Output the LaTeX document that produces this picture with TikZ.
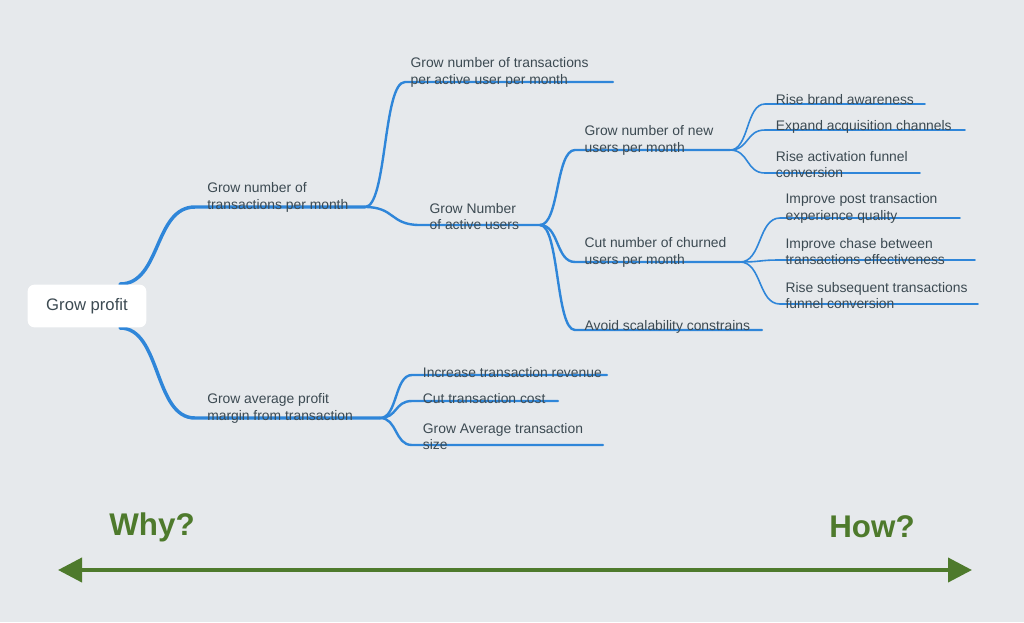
\documentclass[tikz,border=0pt]{standalone}
\usepackage{fontspec}
\setmainfont{Liberation Sans}
\usetikzlibrary{arrows.meta,calc}
\definecolor{bg}{HTML}{E6E9EC}
\definecolor{br}{HTML}{2F86D9}
\definecolor{tx}{HTML}{3C4A52}
\definecolor{gr}{HTML}{4E7A2C}
\tikzset{
 lbl/.style={anchor=south west,inner sep=1pt,align=left,font=\fontsize{10.4}{12.2}\selectfont,text=tx},
 b1/.style={draw=br,line width=2.6pt,line cap=round},
 b2/.style={draw=br,line width=1.8pt,line cap=round},
 b3/.style={draw=br,line width=1.2pt,line cap=round},
}
\begin{document}
\begin{tikzpicture}[x=0.75pt,y=-0.75pt]
\fill[bg] (0,0) rectangle (1024,622);
\useasboundingbox (0,0) rectangle (1024,622);
\coordinate (r1) at (120,284); \coordinate (r2) at (120,328);
\coordinate (a0) at (195,207); \coordinate (a) at (365,207);
\coordinate (b0) at (195,418); \coordinate (b) at (380,418);
\coordinate (c0) at (405,82); \coordinate (c) at (613,82);
\coordinate (d0) at (420,225); \coordinate (d) at (540,225);
\coordinate (e0) at (575,150); \coordinate (e) at (730,150);
\coordinate (f0) at (575,262); \coordinate (f) at (740,262);
\coordinate (g0) at (575,330); \coordinate (g) at (762,330);
\coordinate (h0) at (765,104); \coordinate (h) at (925,104);
\coordinate (i0) at (765,130); \coordinate (i) at (965,130);
\coordinate (j0) at (765,173); \coordinate (j) at (920,173);
\coordinate (k0) at (780,218); \coordinate (k) at (960,218);
\coordinate (l0) at (780,260); \coordinate (l) at (975,260);
\coordinate (m0) at (780,304); \coordinate (m) at (978,304);
\coordinate (n0) at (412,375); \coordinate (n) at (607,375);
\coordinate (o0) at (412,401); \coordinate (o) at (558,401);
\coordinate (p0) at (412,445); \coordinate (p) at (603,445);
\newcommand{\cv}[4]{\draw[#1] (#2) .. controls ($(#2)!0.55!(#2-|#3)$) and ($(#3)!0.55!(#3-|#2)$) .. (#3) -- (#4);}
\cv{b1}{r1}{a0}{a} \cv{b1}{r2}{b0}{b}
\cv{b2}{a}{c0}{c} \cv{b2}{a}{d0}{d}
\cv{b2}{d}{e0}{e} \cv{b2}{d}{f0}{f} \cv{b2}{d}{g0}{g}
\cv{b3}{e}{h0}{h} \cv{b3}{e}{i0}{i} \cv{b3}{e}{j0}{j}
\cv{b3}{f}{k0}{k} \cv{b3}{f}{l0}{l} \cv{b3}{f}{m0}{m}
\cv{b2}{b}{n0}{n} \cv{b2}{b}{o0}{o} \cv{b2}{b}{p0}{p}
\node[fill=white,rounded corners=5pt,minimum width=89pt,minimum height=32pt,text=tx,font=\fontsize{12.5}{14}\selectfont] (root) at (87,306) {Grow profit};
\node[lbl] (ta) at ([xshift=8,yshift=-5]a0) {Grow number of\\transactions per month};
\node[lbl] (tb) at ([xshift=8,yshift=-5]b0) {Grow average profit\\margin from transaction};
\node[lbl] (tc) at ([xshift=3,yshift=-5]c0) {Grow number of transactions\\per active user per month};
\node[lbl] (td) at ([xshift=6,yshift=-5]d0) {Grow Number\\of active users};
\node[lbl] (te) at ([xshift=6,yshift=-5]e0) {Grow number of new\\users per month};
\node[lbl] (tf) at ([xshift=6,yshift=-5]f0) {Cut number of churned\\users per month};
\node[lbl] (tg) at ([xshift=6,yshift=-4]g0) {Avoid scalability constrains};
\node[lbl] (th) at ([xshift=7,yshift=-2]h0) {Rise brand awareness};
\node[lbl] (ti) at ([xshift=7,yshift=-4]i0) {Expand acquisition channels};
\node[lbl] (tj) at ([xshift=7,yshift=-5]j0) {Rise activation funnel\\conversion};
\node[lbl] (tk) at ([xshift=3,yshift=-5]k0) {Improve post transaction\\experience quality};
\node[lbl] (tl) at ([xshift=3,yshift=-5]l0) {Improve chase between\\transactions effectiveness};
\node[lbl] (tm) at ([xshift=3,yshift=-5]m0) {Rise subsequent transactions\\funnel conversion};
\node[lbl] (tn) at ([xshift=7,yshift=-3]n0) {Increase transaction revenue};
\node[lbl] (to) at ([xshift=7,yshift=-3]o0) {Cut transaction cost};
\node[lbl] (tp) at ([xshift=7,yshift=-5]p0) {Grow Average transaction\\size};
\coordinate (wl) at (58,570); \coordinate (wr) at (972,570);
\draw[gr,line width=3pt,{Triangle[length=18pt,width=18pt]}-{Triangle[length=18pt,width=18pt]}] (wl) -- (wr);
\node[text=gr,font=\bfseries\fontsize{23.5}{26}\selectfont] (why) at (152,527) {Why?};
\node[text=gr,font=\bfseries\fontsize{23.5}{26}\selectfont] (how) at (872,527) {How?};
\end{tikzpicture}
\end{document}
